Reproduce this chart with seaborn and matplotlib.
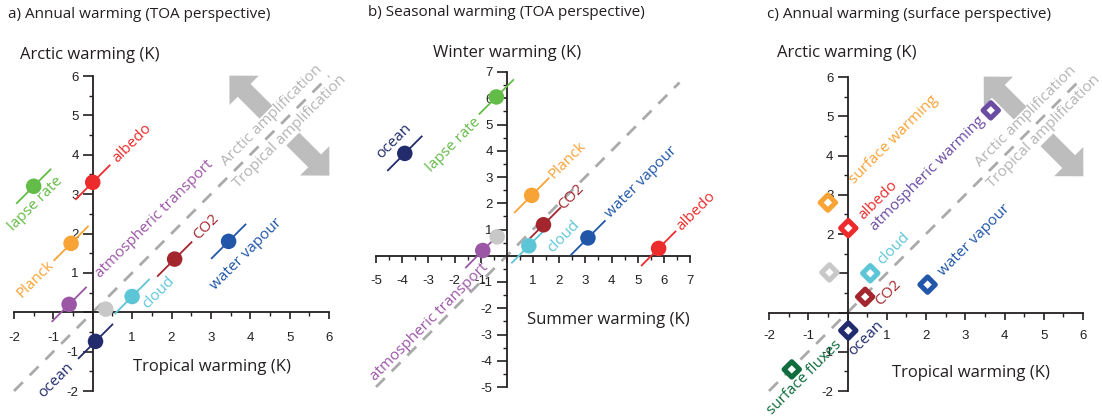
import numpy as np
import pandas as pd
import matplotlib
matplotlib.use("Agg")
import matplotlib.pyplot as plt
import seaborn as sns
from matplotlib.ticker import FixedLocator

# ---------------- data ----------------
# a) annual warming contributions, TOA perspective
a_terms = ["lapse rate", "albedo", "Planck", "atmospheric transport", "residual",
           "cloud", "CO2", "water vapour", "ocean"]
a_tropical = [-1.5, 0.0, -0.55, -0.6, 0.33, 1.0, 2.08, 3.45, 0.07]
a_arctic = [3.2, 3.3, 1.75, 0.2, 0.08, 0.4, 1.35, 1.8, -0.74]

# b) seasonal warming contributions, TOA perspective
b_terms = ["ocean", "lapse rate", "Planck", "CO2", "residual",
           "atmospheric transport", "cloud", "water vapour", "albedo"]
b_summer = [-3.9, -0.4, 0.95, 1.4, -0.37, -0.92, 0.84, 3.1, 5.8]
b_winter = [3.9, 6.05, 2.3, 1.18, 0.72, 0.2, 0.38, 0.68, 0.28]

# c) annual warming contributions, surface perspective
c_terms = ["surface warming", "albedo", "atmospheric warming", "residual",
           "cloud", "CO2", "water vapour", "ocean", "surface fluxes"]
c_tropical = [-0.5, 0.02, 3.65, -0.46, 0.58, 0.45, 2.04, 0.02, -1.42]
c_arctic = [2.8, 2.15, 5.15, 1.02, 1.0, 0.4, 0.71, -0.46, -1.45]

# ---------------- style ----------------
palette = {
    "lapse rate": "#64bc48", "albedo": "#ec2c2c", "Planck": "#f8a336",
    "atmospheric transport": "#9b56a6", "residual": "#c8c8c8",
    "cloud": "#5cc6d7", "CO2": "#a3262e", "water vapour": "#2156a8",
    "ocean": "#222c6c", "surface warming": "#f8a336",
    "atmospheric warming": "#6a4ca3", "surface fluxes": "#0f6c3c",
}
INK = "#231f20"
GREY_LINE = "#aaaaaa"
GREY_ARROW = "#bdbdbd"
GREY_TEXT = "#b4b4b4"
TICK_FONT = "Liberation Sans"

sns.set_theme(style="white")
plt.rcParams["font.family"] = ["Open Sans", "DejaVu Sans"]

# label placement: (distance along the 45 deg direction, perpendicular shift, alignment), in pixels
a_place = {
    "lapse rate": (-11, -14, "center"), "albedo": (31, 0, "left"),
    "Planck": (-27, 0, "right"), "atmospheric transport": (40, 0, "left"),
    "cloud": (2, -16, "left"), "CO2": (30, 0, "left"),
    "water vapour": (-44, -22, "left"), "ocean": (-34, 0, "right"),
}
b_place = {
    "ocean": (1, 16, "center"), "lapse rate": (-29, -3, "right"),
    "Planck": (27, 0, "left"), "CO2": (25, 0, "left"),
    "atmospheric transport": (-8, -13, "right"), "cloud": (11, -18, "left"),
    "water vapour": (30, 2, "left"), "albedo": (28, 0, "left"),
}
c_place = {
    "surface warming": (31, -2, "left"), "albedo": (16, -1, "left"),
    "atmospheric warming": (-12, 0, "right"), "cloud": (14, 1, "left"),
    "CO2": (4, -14, "left"), "water vapour": (17, -1, "left"),
    "ocean": (-14, -18, "left"), "surface fluxes": (-46, -15, "left"),
}

W, H = 1102, 417
fig = plt.figure(figsize=(W / 100, H / 100), dpi=100)
fig.patch.set_facecolor("white")


def box(left, top, right, bottom):
    return [left / W, 1 - bottom / H, (right - left) / W, (bottom - top) / H]


def ftext(x, y, s, **kw):
    fig.text(x / W, 1 - y / H, s, ha="left", va="center", color=INK, **kw)


def style_axes(ax, lo, hi, xpad):
    ax.set_xlim(lo, hi)
    ax.set_ylim(lo, hi)
    ax.set_facecolor("none")
    for s in ("top", "right"):
        ax.spines[s].set_visible(False)
    for s in ("left", "bottom"):
        ax.spines[s].set_position(("data", 0))
        ax.spines[s].set_linewidth(1.3)
        ax.spines[s].set_color(INK)
        ax.spines[s].set_zorder(2)
    major = np.arange(lo, hi + 1)
    labels = ["" if v == 0 else f"{v:g}" for v in major]
    ax.set_xticks(major, labels, fontfamily=TICK_FONT, fontsize=9.5, color=INK)
    ax.set_yticks(major, labels, fontfamily=TICK_FONT, fontsize=9.5, color=INK)
    minor = np.arange(lo, hi + 0.25, 0.5)
    ax.xaxis.set_minor_locator(FixedLocator(minor))
    ax.yaxis.set_minor_locator(FixedLocator(minor))
    ax.tick_params(axis="x", which="major", direction="out", length=5, width=1.2,
                   pad=xpad, color=INK, bottom=True)
    ax.tick_params(axis="y", which="major", direction="out", length=7.2, width=1.2,
                   pad=3, color=INK, left=True)
    ax.tick_params(which="minor", direction="out", length=2.6, width=1.0, color=INK,
                   bottom=True, left=True)
    ax.grid(False)


def px_per_unit(ax):
    p0 = ax.transData.transform((0, 0))
    p1 = ax.transData.transform((1, 0))
    return p1[0] - p0[0]


def draw_panel(ax, terms, xs, ys, lo, hi, line_end, place, marker, segments, amp, xpad):
    style_axes(ax, lo, hi, xpad)
    df = pd.DataFrame({"term": terms, "x": xs, "y": ys})
    # one-to-one line
    ax.plot([lo, line_end], [lo, line_end], color=GREY_LINE, lw=2.0,
            dashes=(4.5, 3.5), zorder=1, clip_on=False, solid_capstyle="butt")
    ppu = px_per_unit(ax)
    if segments:
        h = 17.5 / ppu
        for _, r in df.iterrows():
            if r.term == "residual":
                continue
            ax.plot([r.x - h, r.x + h], [r.y - h, r.y + h], color=palette[r.term],
                    lw=1.3, zorder=3, clip_on=False, solid_capstyle="butt")
    if marker == "o":
        sns.scatterplot(data=df, x="x", y="y", hue="term", palette=palette, s=125,
                        marker="o", linewidth=0, legend=False, ax=ax, zorder=4,
                        clip_on=False)
    else:
        sns.scatterplot(data=df, x="x", y="y", hue="term", palette=palette, s=62,
                        marker="D", facecolor="white", linewidth=3.6, legend=False,
                        ax=ax, zorder=4, clip_on=False)
        coll = ax.collections[-1]
        coll.set_edgecolor([palette[t] for t in terms])
        coll.set_facecolor("white")
    for _, r in df.iterrows():
        if r.term not in place:
            continue
        along, perp, ha = place[r.term]
        dx = (along - perp) / np.sqrt(2)
        dy = (along + perp) / np.sqrt(2)
        ax.annotate(r.term, (r.x, r.y), xytext=(dx, dy), textcoords="offset pixels",
                    rotation=45, rotation_mode="anchor", ha=ha, va="center",
                    color=palette[r.term], fontsize=11, annotation_clip=False,
                    zorder=5)
    if amp:
        ax.arrow(4.4, 5.08, -0.93, 0.93, width=0.46, head_width=1.05, head_length=0.53,
                 length_includes_head=True, color=GREY_ARROW, lw=0, zorder=1,
                 clip_on=False)
        ax.arrow(5.08, 4.4, 0.93, -0.93, width=0.46, head_width=1.05, head_length=0.53,
                 length_includes_head=True, color=GREY_ARROW, lw=0, zorder=1,
                 clip_on=False)
        ax.text(4.55, 5.0, "Arctic amplification", rotation=45, rotation_mode="anchor",
                ha="center", va="center", color=GREY_TEXT, fontsize=11, zorder=2)
        ax.text(5.0, 4.6, "Tropical amplification", rotation=45, rotation_mode="anchor",
                ha="center", va="center", color=GREY_TEXT, fontsize=11, zorder=2)
    ax.set_xlabel("")
    ax.set_ylabel("")


ax_a = fig.add_axes(box(14, 76, 329, 391))
ax_b = fig.add_axes(box(376, 72, 690, 387))
ax_c = fig.add_axes(box(769, 77, 1083, 391))

draw_panel(ax_a, a_terms, a_tropical, a_arctic, -2, 6, 6, a_place, "o", True, True, 9)
draw_panel(ax_b, b_terms, b_summer, b_winter, -5, 7, 6.6, b_place, "o", True, False, 9)
draw_panel(ax_c, c_terms, c_tropical, c_arctic, -2, 6, 6, c_place, "D", False, True, 7.5)

# panel titles and axis names
ftext(8, 14, "a) Annual warming (TOA perspective)", fontsize=11)
ftext(368, 13, "b) Seasonal warming (TOA perspective)", fontsize=11)
ftext(767, 14, "c) Annual warming (surface perspective)", fontsize=11)
ftext(20, 55, "Arctic warming (K)", fontsize=12)
ftext(133, 367, "Tropical warming (K)", fontsize=12)
ftext(433, 53, "Winter warming (K)", fontsize=12)
ftext(527, 320, "Summer warming (K)", fontsize=12)
ftext(777, 53, "Arctic warming (K)", fontsize=12)
ftext(892, 373, "Tropical warming (K)", fontsize=12)

fig.savefig("out.png", dpi=100, facecolor="white")
